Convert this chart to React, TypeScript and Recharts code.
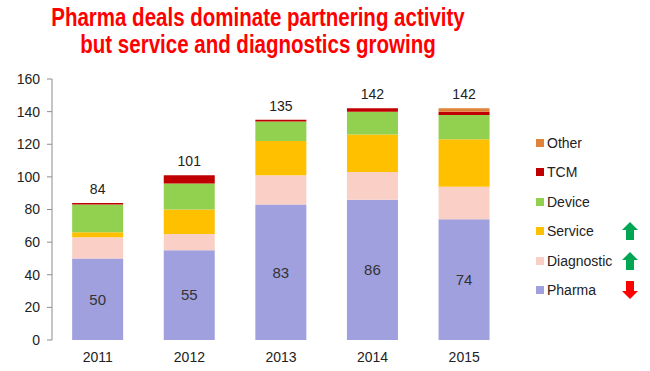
import { BarChart, Bar, XAxis, YAxis, LabelList } from "recharts";

const years = ["2011", "2012", "2013", "2014", "2015"];
const pharma = [50, 55, 83, 86, 74];
const diagnostic = [13, 10, 18, 17, 20];
const service = [3, 15, 21, 23, 29];
const device = [17, 16, 12, 14, 15];
const tcm = [1, 5, 1, 2, 2];
const other = [0, 0, 0, 0, 2];
const totals = [84, 101, 135, 142, 142];
const yTicks = [0, 20, 40, 60, 80, 100, 120, 140, 160];

const series = [
  { key: "pharma", name: "Pharma", color: "#A0A0DE", trend: "down" },
  { key: "diagnostic", name: "Diagnostic", color: "#FAD0C6", trend: "up" },
  { key: "service", name: "Service", color: "#FFC000", trend: "up" },
  { key: "device", name: "Device", color: "#92D050", trend: "" },
  { key: "tcm", name: "TCM", color: "#C00000", trend: "" },
  { key: "other", name: "Other", color: "#E0823A", trend: "" },
];

const chartData = years.map((year, i) => ({
  year,
  pharma: pharma[i],
  diagnostic: diagnostic[i],
  service: service[i],
  device: device[i],
  tcm: tcm[i],
  other: other[i],
  total: totals[i],
}));

const font = "'Liberation Sans', Arial, sans-serif";

// total above the stack: drawn on "other" where it has a value, else on "tcm"
const totalLabel = (props: any) => {
  const { x, y, width, value } = props;
  if (value === null || value === undefined || value === "") return null;
  return (
    <text
      x={Number(x) + Number(width) / 2}
      y={Number(y) - 9}
      textAnchor="middle"
      fill="#222"
      fontSize={14}
      fontFamily={font}
    >
      {value}
    </text>
  );
};

const Arrow = ({ dir }: { dir: string }) => (
  <svg width={16} height={18} style={{ position: "absolute", left: 622, top: -9 }}>
    {dir === "up" ? (
      <polygon points="8,0 16,8 12,8 12,18 4,18 4,8 0,8" fill="#00A651" />
    ) : (
      <polygon points="4,0 12,0 12,10 16,10 8,18 0,10 4,10" fill="#FF0000" />
    )}
  </svg>
);

export default function App() {
  const legendItems = [...series].reverse();
  return (
    <div style={{ position: "absolute", left: 0, top: 0, width: 650, height: 371, background: "#fff", fontFamily: font }}>
      <div
        style={{
          position: "absolute",
          left: 0,
          width: 516,
          top: 4,
          textAlign: "center",
          color: "#FF0000",
          fontFamily: font,
          fontWeight: "bold",
          fontSize: 25,
          lineHeight: "27px",
          transform: "scaleX(0.82)",
          transformOrigin: "258px 0",
          whiteSpace: "nowrap",
        }}
      >
        Pharma deals dominate partnering activity
        <br />
        but service and diagnostics growing
      </div>
      <div style={{ position: "absolute", left: 0, top: 0 }}>
        <BarChart
          width={650}
          height={371}
          data={chartData}
          margin={{ top: 79, right: 140, bottom: 11, left: 0 }}
          barCategoryGap="22%"
        >
          <XAxis
            xAxisId="grid"
            type="number"
            domain={[0, 5]}
            ticks={[0, 1, 2, 3, 4, 5]}
            interval={0}
            allowDataOverflow
            height={0}
            tickFormatter={() => ""}
            tickSize={5}
            stroke="#8c8c8c"
          />
          <XAxis
            xAxisId="cat"
            dataKey="year"
            axisLine={false}
            tickLine={false}
            height={20}
            tick={{ fontSize: 14, fill: "#222", fontFamily: font }}
            tickMargin={6}
          />
          <YAxis
            width={52}
            domain={[0, 160]}
            ticks={yTicks}
            interval={0}
            tickSize={5}
            tickMargin={7}
            stroke="#8c8c8c"
            tick={{ fontSize: 14, fill: "#222", fontFamily: font }}
          />
          {series.map((s) => (
            <Bar
              key={s.key}
              xAxisId="cat"
              dataKey={s.key}
              name={s.name}
              stackId="a"
              fill={s.color}
              isAnimationActive={false}
            >
              {s.key === "pharma" && (
                <LabelList dataKey="pharma" position="center" fill="#333" fontSize={15} fontFamily={font} />
              )}
              {s.key === "tcm" && (
                <LabelList
                  dataKey={(d: any) => (d.other > 0 ? null : d.total)}
                  content={totalLabel}
                />
              )}
              {s.key === "other" && (
                <LabelList
                  dataKey={(d: any) => (d.other > 0 ? d.total : null)}
                  content={totalLabel}
                />
              )}
            </Bar>
          ))}
        </BarChart>
      </div>
      {legendItems.map((s, i) => (
        <div
          key={s.key}
          style={{ position: "absolute", left: 536, top: 143 + i * 29.4, height: 0 }}
        >
          <div style={{ position: "absolute", left: 0, top: -4, width: 8, height: 8, background: s.color }} />
          <div
            style={{
              position: "absolute",
              left: 11,
              top: -9,
              fontSize: 14,
              lineHeight: "18px",
              color: "#222",
              whiteSpace: "nowrap",
            }}
          >
            {s.name}
          </div>
          {s.trend && (
            <div style={{ position: "absolute", left: -536, top: 0 }}>
              <Arrow dir={s.trend} />
            </div>
          )}
        </div>
      ))}
    </div>
  );
}
